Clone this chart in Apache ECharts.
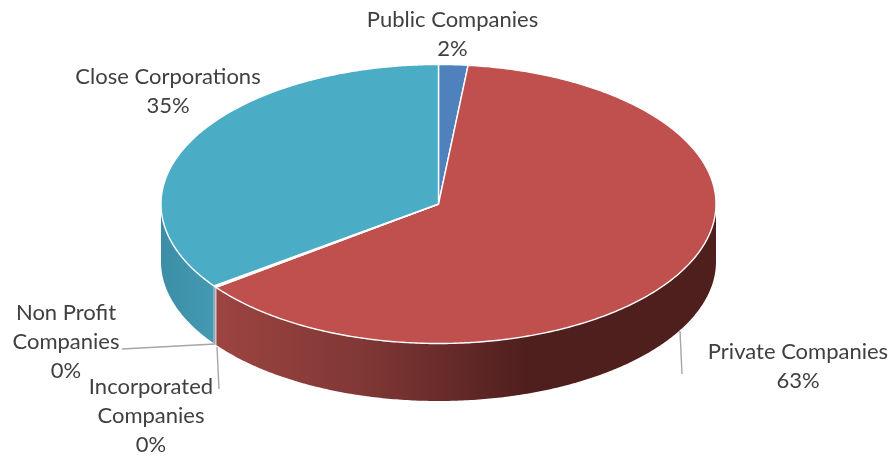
<!DOCTYPE html>
<html><head><meta charset="utf-8">
<style>html,body{margin:0;padding:0;background:#fff}#c{width:894px;height:459px}</style>
<script src="https://cdn.jsdelivr.net/npm/echarts@6/dist/echarts.min.js"></script>
</head><body><div id="c"></div>
<script>
// Data (clockwise from 12 o'clock)
const categories = ['Public Companies', 'Private Companies', 'Incorporated\nCompanies', 'Non Profit\nCompanies', 'Close Corporations'];
const shares = [1.7, 63.1, 0.1, 0.1, 35];

// Styles and layout
const topColors = ['#4f81bd', '#c0504d', '#9bbb59', '#8064a2', '#4bacc6'];
const sideStops = [
  [[0, '#3b618e'], [1, '#3b618e']],
  [[0, '#9c4441'], [0.3, '#7f3735'], [0.62, '#4f1f1e'], [1, '#4f1f1e']],
  [[0, '#748c43'], [1, '#748c43']],
  [[0, '#604b7a'], [1, '#604b7a']],
  [[0, '#3b8ea6'], [1, '#4499b2']]
];
const labelAnchors = [[452.5, 34], [798, 366], [151, 416], [66, 342], [168, 91]];
const leaderLines = [null, [[680, 331], [682, 374]], [[217, 347], [219, 389]], [[122, 349], [215, 344]], null];
const geo = { cx: 438.5, cy: 204, rx: 277.5, ry: 139.5, depth: 57.5 };
const FONT = 'Lato, "Open Sans", sans-serif';

const total = shares.reduce((a, b) => a + b, 0);
const starts = [];
shares.reduce((acc, v, i) => { starts[i] = acc; return acc + v; }, 0);

function pt(t, dy) {
  return [geo.cx + geo.rx * Math.sin(t), geo.cy - geo.ry * Math.cos(t) + (dy || 0)];
}
function arc(a, b, dy) {
  const n = Math.max(2, Math.ceil((b - a) / 0.01)), pts = [];
  for (let i = 0; i <= n; i++) pts.push(pt(a + (b - a) * i / n, dy));
  return pts;
}
const TAU = Math.PI * 2;

function sideEl(i) {
  const a = Math.max(starts[i] / total * TAU, Math.PI / 2);
  const b = Math.min((starts[i] + shares[i]) / total * TAU, Math.PI * 1.5);
  if (b <= a) return null;
  const thin = shares[i] / total < 0.01;
  return {
    type: 'polygon', shape: { points: arc(a, b, 0).concat(arc(a, b, geo.depth).reverse()) },
    style: {
      fill: new echarts.graphic.LinearGradient(0, 0, 1, 0, sideStops[i].map(s => ({ offset: s[0], color: s[1] }))),
      stroke: thin ? '#e4e0ee' : null, lineWidth: thin ? 0.7 : 0
    }
  };
}
function topEl(i) {
  const a = starts[i] / total * TAU, b = (starts[i] + shares[i]) / total * TAU;
  return {
    type: 'polygon', shape: { points: [[geo.cx, geo.cy]].concat(arc(a, b, 0)) },
    style: { fill: topColors[i], stroke: '#ffffff', lineWidth: 1.4, lineJoin: 'round' }
  };
}

const chart = echarts.init(document.getElementById('c'), null, { renderer: 'canvas' });
chart.setOption({
  animation: false,
  backgroundColor: '#ffffff',
  series: [{
    type: 'custom',
    coordinateSystem: 'none',
    data: shares.map((v, i) => ({ value: v, name: categories[i] })),
    z: 1,
    silent: true,
    renderItem: (params, api) => {
      const children = [];
      if (params.dataIndex === 0) {
        [0, 1, 4, 2, 3].forEach(k => { const s = sideEl(k); if (s) children.push(s); });
        shares.forEach((_, k) => children.push(topEl(k)));
      }
      return { type: 'group', children };
    }
  }, {
    type: 'custom',
    coordinateSystem: 'none',
    data: shares.map((v, i) => ({ value: v, name: categories[i] })),
    z: 2,
    silent: true,
    renderItem: (params, api) => {
      const i = params.dataIndex;
      const children = [];
      if (leaderLines[i]) children.push({
        type: 'polyline', shape: { points: leaderLines[i] },
        style: { stroke: '#a6a6a6', lineWidth: 1.4, fill: null }
      });
      children.push({
        type: 'text', x: labelAnchors[i][0], y: labelAnchors[i][1],
        style: {
          text: categories[i] + '\n' + Math.round(shares[i] / total * 100) + '%',
          font: '22px ' + FONT, fill: '#404040', align: 'center', verticalAlign: 'middle', lineHeight: 29
        }
      });
      return { type: 'group', children };
    }
  }]
});
</script></body></html>
